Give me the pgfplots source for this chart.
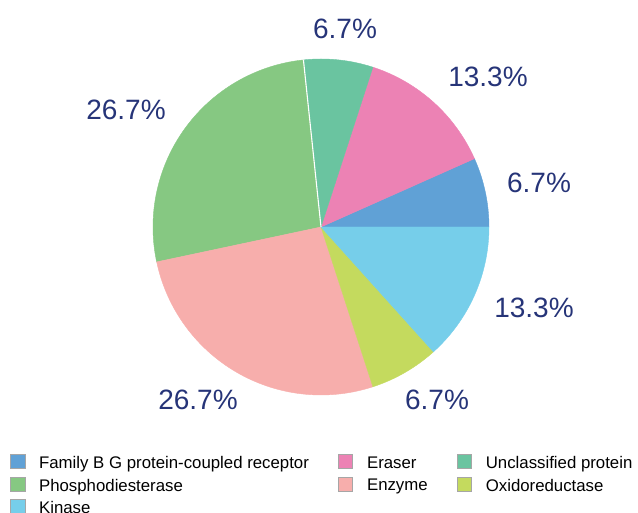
\documentclass[border=0pt]{standalone}
\usepackage{fontspec}
\setmainfont{Liberation Sans}
\usepackage{pgfplots}
\pgfplotsset{compat=1.18}
\definecolor{cGPCR}{RGB}{96,161,214}
\definecolor{cEraser}{RGB}{236,130,180}
\definecolor{cUncl}{RGB}{106,196,160}
\definecolor{cPDE}{RGB}{134,200,130}
\definecolor{cEnz}{RGB}{247,174,172}
\definecolor{cOxi}{RGB}{196,218,94}
\definecolor{cKin}{RGB}{118,206,234}
\definecolor{lbl}{RGB}{38,52,120}
\pgfplotsset{sqlegend/.style={legend image code/.code={\filldraw[##1,draw=gray!70,line width=0.6pt] (0pt,-5.5pt) rectangle (14.5pt,9pt);}}}
\begin{document}
\begin{tikzpicture}
\begin{axis}[
  x=1pt, y=1pt, xmin=0, xmax=638, ymin=0, ymax=513,
  hide axis, clip=false,
  legend columns=3,
  legend cell align=left,
  legend style={at={(axis cs:10,59)}, anchor=north west, draw=none, fill=none,
    inner sep=0pt, outer sep=0pt, font=\fontsize{16.8}{19}\selectfont,
    nodes={inner sep=0pt}, row sep=6.5pt,
    /tikz/every odd column/.style={column sep=14pt},
    /tikz/every even column/.style={column sep=29pt}},
]
\coordinate (bl) at (axis cs:0,0);
\coordinate (tr) at (axis cs:638,513);
% slice values (counts out of 15)
\def\total{15}
\pgfplotsextra{
  \gdef\acc{0}
  \foreach \v/\c in {1/cGPCR,2/cEraser,1/cUncl,4/cPDE,4/cEnz,1/cOxi,2/cKin}{
    \pgfmathsetmacro\st{\acc*360/\total}
    \pgfmathsetmacro\en{(\acc+\v)*360/\total}
    \filldraw[fill=\c, draw=\c, line width=0.4pt] (axis cs:321,286) -- ++(\st:168pt) arc[start angle=\st, end angle=\en, radius=168pt] -- cycle;
    \pgfmathsetmacro\nacc{\acc+\v}
    \xdef\acc{\nacc}
  }
  \draw[white, line width=1.1pt] (axis cs:321,286) -- ++(96:168.5pt);
}
\addlegendimage{sqlegend, fill=cGPCR}\addlegendentry{Family B G protein-coupled receptor}
\addlegendimage{sqlegend, fill=cEraser}\addlegendentry{Eraser}
\addlegendimage{sqlegend, fill=cUncl}\addlegendentry{Unclassified protein}
\addlegendimage{sqlegend, fill=cPDE}\addlegendentry{Phosphodiesterase}
\addlegendimage{sqlegend, fill=cEnz}\addlegendentry{Enzyme}
\addlegendimage{sqlegend, fill=cOxi}\addlegendentry{Oxidoreductase}
\addlegendimage{sqlegend, fill=cKin}\addlegendentry{Kinase}
\begin{scope}[every node/.style={font=\fontsize{28}{30}\selectfont, text=lbl, inner sep=0pt}]
\node at (axis cs:345,484.5) {6.7\%};
\node at (axis cs:488,436) {13.3\%};
\node at (axis cs:539,330) {6.7\%};
\node at (axis cs:534,205) {13.3\%};
\node at (axis cs:437,113) {6.7\%};
\node at (axis cs:198,113) {26.7\%};
\node at (axis cs:126,403) {26.7\%};
\end{scope}
\end{axis}
\pgfresetboundingbox
\path[use as bounding box] (bl) rectangle (tr);
\end{tikzpicture}
\end{document}
